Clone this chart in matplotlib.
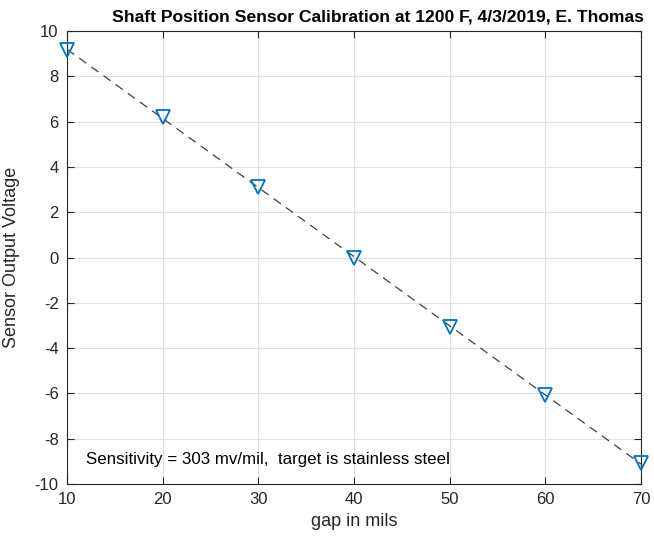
import numpy as np
import matplotlib
matplotlib.use("Agg")
import matplotlib.pyplot as plt

gap_mils = [10, 20, 30, 40, 50, 60, 70]
voltage = [9.15, 6.22, 3.12, -0.03, -3.05, -6.07, -9.08]
x_ticks = [10, 20, 30, 40, 50, 60, 70]
y_ticks = [-10, -8, -6, -4, -2, 0, 2, 4, 6, 8, 10]
title = "Shaft Position Sensor Calibration at 1200 F, 4/3/2019, E. Thomas"
note = "Sensitivity = 303 mv/mil,  target is stainless steel"

plt.rcParams['font.family'] = ['Liberation Sans', 'DejaVu Sans']
plt.rcParams['axes.unicode_minus'] = False

fig = plt.figure(figsize=(6.54, 5.42), dpi=100)
ax = fig.add_axes([67/654, 1-484/542, (641-67)/654, (484-31)/542])

coef = np.polyfit(gap_mils, voltage, 1)
xf = np.array([gap_mils[0], gap_mils[-1]])
ax.plot(xf, np.polyval(coef, xf), color=(0.25, 0.25, 0.25), lw=0.9, ls=(0, (7, 5)), zorder=2)
ax.plot(gap_mils, voltage, ls='none', marker='v', ms=10, mfc='none',
        mec=(0, 0.447, 0.741), mew=1.3, zorder=3, clip_on=False)

ax.set_xlim(10, 70)
ax.set_ylim(-10, 10)
ax.set_xticks(x_ticks)
ax.set_yticks(y_ticks)
ax.grid(True, color=(0.88, 0.88, 0.88), lw=0.8)
ax.set_axisbelow(True)
ax.tick_params(direction='in', top=True, right=True, labelsize=12, colors=(0.15, 0.15, 0.15),
               length=5, width=0.8, pad=6)
for s in ax.spines.values():
    s.set_color((0.15, 0.15, 0.15))
    s.set_linewidth(0.8)

fig.text(378/654, 1-17/542, title, fontsize=12.6, fontweight='bold', ha='center', va='center')
ax.set_xlabel("gap in mils", fontsize=13, color=(0.15, 0.15, 0.15))
ax.set_ylabel("Sensor Output Voltage", fontsize=13, color=(0.15, 0.15, 0.15))
ax.yaxis.set_label_coords((20 - 67) / 574, 0.5)
ax.text(12.0, -8.9, note, fontsize=12.2, va='center', ha='left')

fig.savefig("out.png", dpi=100)
